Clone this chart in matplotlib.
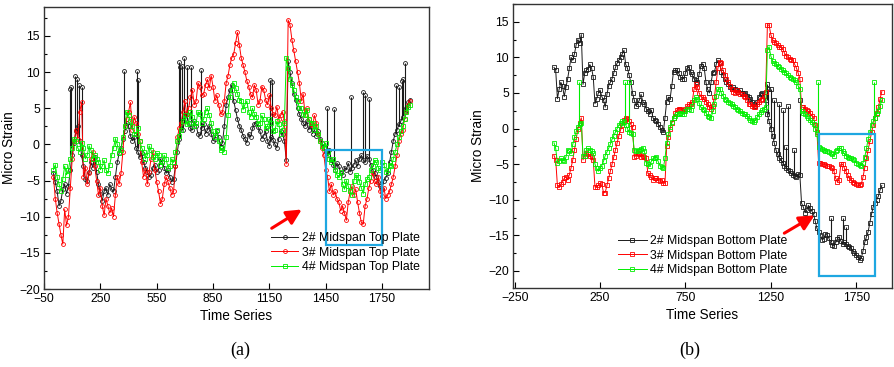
import matplotlib
matplotlib.use("Agg")
import matplotlib.pyplot as plt
from matplotlib.patches import Rectangle
from matplotlib.ticker import MultipleLocator

plt.rcParams['font.family'] = ['Liberation Sans', 'DejaVu Sans']

# ---- panel (a): midspan top plates, one reading every 10 steps ----
time_a = list(range(0, 1901, 10))
top_2 = [-4.0, -5.2, -6.5, -8.5, -7.8, -6.2, -5.5, -6.8, -5.8, -3.5,
         -1.5, 0.2, 1.8, 2.6, 0.5, -1.5, -3.0, -4.8, -5.0, -3.8,
         -2.5, -3.2, -1.8, -3.8, -5.5, -6.8, -7.8, -6.5, -6.0, -7.0,
         -5.5, -6.2, -6.5, -4.5, -2.5, -1.2, -0.5, 0.8, 1.8, 3.0,
         2.5, 1.2, 0.5, 1.0, -0.5, -1.0, -1.8, -1.2, -2.5, -3.2,
         -3.8, -4.5, -4.2, -3.2, -2.8, -3.8, -3.5, -2.0, -2.5, -3.2,
         -4.0, -3.5, -4.5, -5.2, -4.8, -3.0, -1.0, 0.8, 2.5, 2.0,
         3.5, 4.2, 3.0, 2.2, 2.0, 3.2, 2.6, 1.5, 1.2, 2.2,
         2.8, 1.5, 2.0, 2.6, 1.5, 0.5, 0.8, 1.8, 1.0, -0.3,
         0.2, 2.5, 5.5, 6.5, 7.5, 8.2, 6.0, 4.8, 3.5, 2.6,
         2.0, 1.2, 0.8, 0.2, 1.5, 1.0, 2.2, 2.8, 3.0, 2.4,
         1.8, 0.8, 1.2, 1.8, 0.5, -0.2, 1.0, 0.6, 0.0, -0.5,
         0.8, 1.8, 1.5, 0.5, -2.2, 11.5, 10.0, 8.5, 7.0, 6.2,
         5.0, 4.2, 3.5, 3.0, 2.5, 3.2, 2.0, 2.6, 1.5, 2.0,
         1.2, 1.8, 0.8, 0.2, -0.5, -1.0, -1.5, -0.8, -2.2, -2.8,
         -3.5, -2.6, -3.0, -4.0, -4.2, -3.2, -3.5, -2.6, -3.8, -3.2,
         -2.8, -2.2, -3.0, -2.0, -1.5, -2.2, -2.5, -1.6, -2.0, -2.8,
         -3.5, -4.0, -4.5, -5.2, -5.8, -6.2, -5.0, -4.6, -4.0, -2.5,
         -1.0, 0.5, 1.5, 2.0, 2.8, 3.2, 3.8, 4.5, 5.0, 5.8,
         6.2]
top_3 = [-4.5, -7.5, -9.5, -11.0, -12.5, -13.8, -9.0, -11.2, -10.0, -6.0,
         -2.0, 0.5, 2.0, 0.8, 4.5, 5.8, -4.5, -3.2, -5.5, -4.0,
         -2.0, -1.0, -3.0, -5.0, -7.0, -6.0, -8.5, -9.8, -7.5, -8.5,
         -9.5, -8.8, -10.0, -7.0, -4.5, -5.5, -4.0, -1.0, 2.5, 3.5,
         4.5, 5.8, 2.0, 3.8, 3.0, 1.5, 0.5, -2.5, -4.5, -3.5,
         -5.5, -3.8, -2.0, -1.0, -3.5, -5.2, -6.5, -8.2, -7.5, -5.5,
         -4.5, -5.2, -6.0, -7.0, -6.5, -3.0, 1.0, 2.2, 3.0, 4.5,
         6.0, 4.2, 5.0, 6.5, 7.5, 5.5, 6.0, 8.5, 8.0, 6.8,
         7.0, 8.2, 9.0, 7.8, 9.5, 8.0, 6.0, 6.8, 5.5, 4.2,
         4.5, 6.0, 8.5, 9.5, 11.0, 12.0, 12.5, 14.0, 15.5, 13.8,
         12.0, 11.0, 10.0, 8.8, 8.0, 7.0, 6.5, 8.2, 7.5, 5.5,
         6.0, 8.0, 7.5, 6.2, 5.5, 6.8, 5.0, 4.2, 4.0, 5.2,
         3.5, 4.0, 4.5, 3.2, -2.7, 17.2, 16.5, 14.5, 13.0, 11.5,
         10.0, 8.5, 6.0, 7.0, 4.0, 5.0, 3.5, 2.8, 2.5, 4.0,
         3.0, 1.5, 0.5, -0.5, -1.5, -3.5, -4.5, -6.5, -5.5, -7.0,
         -6.5, -7.5, -8.0, -9.2, -8.5, -9.5, -10.5, -8.0, -6.5, -5.8,
         -7.0, -6.2, -8.0, -9.5, -10.8, -11.0, -8.5, -7.5, -6.0, -5.0,
         -4.0, -5.0, -5.5, -4.5, -6.5, -7.2, -6.0, -7.5, -7.0, -6.5,
         -5.5, -4.5, -3.0, -1.5, 0.5, 1.5, 2.0, 3.5, 4.5, 5.5,
         6.0]
top_4 = [-3.5, -2.8, -4.5, -5.5, -6.5, -4.8, -3.0, -4.2, -3.5, -2.0,
         -0.5, 0.8, 0.5, -0.5, -1.0, 0.2, -0.5, -2.0, -1.5, -0.2,
         -0.8, -2.0, -1.5, -2.0, -2.5, -3.5, -3.0, -2.2, -3.5, -4.0,
         -2.8, -1.5, -0.5, 0.8, 0.0, -1.2, -0.8, 1.0, 2.5, 4.5,
         4.0, 3.2, 2.5, 1.5, 1.5, 2.2, 0.5, -0.5, -1.0, -2.0,
         -1.5, -0.2, -0.8, -1.8, -2.0, -1.2, -1.5, -2.8, -2.5, -1.5,
         -2.0, -3.2, -3.0, -2.0, -2.5, -1.0, 0.5, 1.2, 2.0, 3.2,
         4.0, 2.8, 3.0, 4.5, 3.8, 2.5, 3.0, 4.5, 4.2, 3.0,
         3.5, 4.5, 5.0, 4.0, 3.0, 1.8, 1.0, 2.0, 0.5, -0.8,
         -0.5, -1.0, 1.0, 4.0, 6.5, 7.5, 8.5, 7.8, 7.0, 6.2,
         6.0, 4.8, 5.5, 6.0, 4.5, 3.8, 5.0, 4.2, 3.8, 2.8,
         3.0, 4.0, 3.5, 2.2, 2.5, 3.5, 3.0, 1.8, 2.0, 3.2,
         2.8, 1.5, 2.0, 3.0, 12.0, 10.5, 9.0, 8.2, 7.5, 6.5,
         6.0, 5.0, 5.0, 4.2, 4.0, 4.8, 3.5, 3.0, 3.0, 2.0,
         2.5, 1.5, 0.5, -0.2, -0.5, 0.2, -1.0, -2.0, -2.5, -2.0,
         -3.5, -4.2, -4.5, -3.8, -5.5, -6.2, -5.0, -5.8, -6.5, -7.0,
         -5.0, -4.2, -4.5, -5.2, -6.0, -6.8, -5.5, -4.8, -4.5, -3.5,
         -3.0, -2.2, -2.5, -3.2, -3.5, -2.5, -2.8, -3.8, -3.5, -2.8,
         -3.0, -2.0, -1.0, 0.0, 1.0, 1.8, 2.5, 3.5, 4.5, 5.2,
         5.5]

# isolated spikes of gauge 2#
spike_a_x = [89, 96, 114, 128, 134, 151, 377, 445, 450, 667, 676, 685, 697,
             711, 733, 786, 1156, 1165, 1459, 1494, 1585, 1651, 1660, 1683,
             1823, 1838, 1855, 1864, 1873]
spike_a_lo = [-1.5, -0.5, 1.5, 1.0, 1.0, -2.0, 1.5, -0.5, -0.5, 0.0, 1.0, 2.0, 3.0,
              3.5, 2.5, 1.5, 0.5, 1.0, -1.5, -2.5, -3.5, -2.0, -2.0, -2.5,
              1.5, 2.5, 3.5, 4.0, 4.5]
spike_a_hi = [7.7, 8.0, 9.4, 9.1, 8.2, 8.0, 10.1, 10.1, 8.9, 11.4, 10.7, 10.9, 12.0,
              10.7, 10.7, 10.3, 8.9, 8.6, 5.1, 4.9, 6.6, 7.3, 6.9, 6.3,
              8.2, 8.0, 8.7, 9.1, 11.3]

# ---- panel (b): midspan bottom plates, one reading every 10 steps ----
time_b = list(range(-20, 1901, 10))
bot_2 = [8.6, 8.2, 4.2, 5.5, 6.5, 6.0, 4.5, 5.8, 7.0, 8.5,
         10.0, 9.6, 10.5, 11.8, 12.5, 12.0, 13.2, 6.2, 7.8, 8.2,
         8.4, 9.0, 8.5, 7.2, 3.5, 4.2, 5.0, 5.4, 4.5, 4.0,
         3.0, 4.8, 6.0, 6.5, 7.0, 7.8, 8.6, 9.2, 9.6, 10.0,
         10.5, 11.0, 9.0, 8.5, 7.5, 6.5, 5.0, 4.0, 3.2, 3.5,
         4.0, 4.8, 3.8, 3.5, 2.8, 2.4, 2.0, 2.6, 1.5, 1.2,
         1.0, 0.6, 0.2, -0.2, -0.5, 1.5, 3.8, 4.4, 4.2, 6.0,
         8.0, 8.2, 8.2, 7.8, 7.3, 7.0, 7.0, 7.8, 8.5, 8.6,
         8.0, 7.6, 7.0, 6.8, 6.5, 7.6, 8.8, 9.1, 8.5, 6.5,
         5.5, 5.0, 6.5, 7.8, 8.0, 9.0, 9.6, 9.2, 8.0, 7.5,
         7.0, 6.6, 6.2, 5.8, 5.6, 5.8, 5.5, 5.4, 5.2, 5.4,
         5.0, 4.8, 5.0, 4.6, 4.5, 4.2, 3.8, 3.4, 3.2, 3.8,
         4.5, 4.8, 5.0, 4.6, 4.0, 2.0, 1.0, 0.0, -1.0, -2.0,
         -3.0, -3.6, -4.2, -4.4, -4.8, -5.2, -5.5, -5.8, -6.0, -6.3,
         -6.5, -6.6, -6.8, -6.4, -6.5, -10.5, -11.0, -11.8, -11.5, -10.8,
         -11.2, -11.6, -12.0, -13.0, -14.0, -14.6, -15.0, -15.6, -15.5, -14.8,
         -15.0, -15.4, -16.0, -16.4, -16.5, -16.0, -15.5, -15.2, -15.8, -16.2,
         -16.0, -16.2, -16.5, -16.6, -16.8, -17.2, -17.5, -17.8, -18.0, -18.4,
         -18.2, -17.2, -16.0, -15.2, -14.5, -13.2, -12.0, -11.0, -10.5, -10.0,
         -9.5, -8.6, -8.0]
bot_3 = [-3.8, -4.4, -8.0, -8.2, -7.8, -7.5, -7.0, -6.8, -7.2, -6.5,
         -5.5, -4.4, -3.0, -1.5, 0.0, 0.8, 1.5, -4.4, -3.8, -3.5,
         -3.6, -3.8, -4.0, -4.4, -8.2, -8.2, -8.0, -7.7, -7.8, -9.0,
         -9.0, -8.0, -7.0, -6.0, -5.0, -4.0, -3.0, -2.0, -1.0, -0.2,
         0.5, 1.2, 1.5, 1.4, 1.0, 0.6, 0.2, -4.0, -3.8, -3.5,
         -3.6, -4.0, -3.8, -4.0, -4.2, -6.3, -6.5, -6.8, -7.2, -7.0,
         -7.0, -7.2, -7.4, -7.2, -7.6, -7.7, -2.5, -1.2, 0.0, 0.8,
         1.5, 2.2, 2.6, 2.8, 2.8, 2.6, 2.4, 2.8, 3.2, 3.4,
         3.5, 3.8, 5.5, 6.2, 5.8, 5.0, 4.5, 4.4, 4.2, 3.8,
         3.5, 3.0, 2.8, 3.2, 4.5, 6.5, 8.5, 9.4, 9.2, 8.2,
         7.5, 7.0, 6.5, 6.0, 5.5, 5.2, 5.0, 5.4, 5.2, 4.8,
         4.8, 4.6, 4.5, 4.0, 3.5, 3.4, 3.2, 3.0, 3.0, 3.4,
         3.8, 4.0, 4.2, 4.6, 5.2, 14.6, 14.5, 13.2, 12.5, 12.2,
         12.0, 11.8, 11.5, 11.4, 11.2, 10.6, 10.2, 10.0, 9.8, 9.7,
         9.6, 9.0, 8.5, 7.8, 7.0, 3.0, 3.0, 2.8, 2.6, 2.4,
         2.2, 1.8, 1.5, 0.5, -0.5, -4.8, -4.9, -5.0, -5.0, -5.1,
         -5.2, -5.3, -5.4, -5.6, -6.0, -7.0, -7.5, -7.2, -5.0, -5.0,
         -5.5, -6.0, -6.5, -7.0, -7.2, -7.5, -7.6, -7.8, -8.0, -8.0,
         -7.8, -6.8, -5.5, -4.2, -3.0, -1.8, -0.5, 0.5, 1.5, 2.2,
         3.0, 4.2, 5.2]
bot_4 = [-2.0, -2.8, -4.8, -4.6, -4.2, -4.4, -4.6, -4.0, -3.0, -3.2,
         -3.4, -2.2, -1.2, -0.4, 0.2, 0.6, 0.8, -3.9, -3.8, -3.0,
         -2.8, -3.0, -3.2, -3.5, -5.0, -5.6, -6.0, -5.6, -5.2, -4.6,
         -3.8, -3.3, -2.8, -2.2, -1.5, -1.0, -0.5, 0.0, 0.5, 0.8,
         1.0, 0.9, 0.5, 0.0, -0.5, -0.6, -0.8, -3.0, -3.2, -3.1,
         -3.0, -2.9, -2.8, -3.2, -4.8, -5.0, -5.2, -4.6, -4.2, -4.1,
         -4.0, -4.6, -5.2, -5.4, -5.6, -4.2, -2.0, -0.8, 0.2, 0.9,
         1.5, 1.8, 2.0, 2.1, 2.2, 2.1, 2.0, 2.4, 2.8, 2.7,
         2.6, 3.2, 4.0, 4.4, 4.2, 3.6, 3.0, 2.8, 2.6, 2.2,
         1.8, 1.6, 1.5, 2.4, 3.5, 4.6, 5.5, 5.6, 5.0, 4.6,
         4.2, 4.0, 3.8, 3.6, 3.5, 3.2, 3.0, 2.8, 2.6, 2.4,
         2.2, 2.1, 2.0, 1.8, 1.5, 1.2, 1.0, 0.9, 1.2, 1.6,
         2.0, 2.3, 2.6, 2.8, 3.0, 11.0, 11.5, 10.2, 9.5, 9.2,
         9.0, 8.8, 8.6, 8.4, 8.2, 8.0, 7.8, 7.5, 7.2, 7.1,
         7.0, 6.8, 6.5, 6.0, 5.5, 2.4, 2.2, 2.0, 1.8, 1.5,
         1.2, 0.9, 0.6, 0.0, -0.7, -2.6, -2.8, -2.9, -3.0, -3.1,
         -3.2, -3.3, -3.4, -3.6, -3.8, -3.2, -3.0, -2.7, -2.8, -3.2,
         -3.5, -3.8, -4.0, -4.1, -4.2, -4.3, -4.4, -4.8, -5.0, -5.1,
         -5.2, -4.8, -4.0, -2.8, -1.5, -0.5, 0.5, 1.0, 1.5, 2.0,
         2.5, 3.2, 4.0]

spike_b2_x = [1225, 1235, 1251, 1270, 1300, 1319, 1339, 1352, 1387, 1423, 1602, 1670, 1690]
spike_b2_lo = [4.0, 2.0, 0.0, -1.5, -4.0, -4.8, -5.5, -5.8, -6.5, -6.5, -16.0, -15.8, -16.0]
spike_b2_hi = [6.3, 5.5, 5.5, 4.0, 3.5, 2.6, -2.6, 3.2, -3.0, 4.0, -12.6, -12.6, -13.8]
spike_b4_x = [128, 397, 421, 1524, 1855]
spike_b4_lo = [0.6, 1.0, -0.5, -0.7, 1.5]
spike_b4_hi = [6.5, 6.5, 6.5, 6.5, 6.5]

BLACK = '#1a1a1a'
RED = '#ff0000'
GREEN = '#00ee00'
BLUE = '#1ea7e1'

fig = plt.figure(figsize=(8.95, 3.67), dpi=100)
ax1 = fig.add_axes([0.0492, 0.2125, 0.4301, 0.7684])
ax2 = fig.add_axes([0.5732, 0.2153, 0.4235, 0.7738])


def style_axis(ax):
    for s in ax.spines.values():
        s.set_linewidth(1.0)
        s.set_color('#333333')
    ax.tick_params(direction='in', length=4, width=0.8, labelsize=8.8, top=False, right=False, pad=3)
    ax.tick_params(which='minor', direction='in', length=2.5, width=0.8, top=False, right=False)
    ax.yaxis.set_minor_locator(MultipleLocator(2.5))
    ax.set_xlabel('Time Series', fontsize=9.8, labelpad=3)
    ax.set_ylabel('Micro Strain', fontsize=9.8, labelpad=2)


# panel (a)
ax1.vlines(spike_a_x, spike_a_lo, spike_a_hi, color=BLACK, lw=0.8)
ax1.plot(spike_a_x, spike_a_hi, 'o', ms=2.8, mfc='none', mec=BLACK, mew=0.6)
ax1.plot(time_a, top_2, '-o', color=BLACK, lw=0.7, ms=2.8, mfc='none', mew=0.6,
         label='2# Midspan Top Plate')
ax1.plot(time_a, top_3, '-o', color=RED, lw=0.7, ms=2.8, mfc='none', mew=0.6,
         label='3# Midspan Top Plate')
ax1.plot(time_a, top_4, '-s', color=GREEN, lw=0.7, ms=2.6, mfc='none', mew=0.6,
         label='4# Midspan Top Plate')
ax1.set_xlim(-50, 2000)
ax1.set_ylim(-20, 19)
ax1.set_xticks([-50, 250, 550, 850, 1150, 1450, 1750])
ax1.set_yticks([-20, -15, -10, -5, 0, 5, 10, 15])
style_axis(ax1)
ax1.add_patch(Rectangle((1450, -13.9), 300, 13.1, fill=False, ec=BLUE, lw=1.6, zorder=5))
ax1.annotate('', xy=(1335, -8.8), xytext=(1150, -11.8),
             arrowprops=dict(arrowstyle='-|>,head_length=0.9,head_width=0.45', color=RED, lw=2.2))
ax1.legend(loc='lower left', bbox_to_anchor=(0.575, 0.035), frameon=False, fontsize=8.8,
           handlelength=2.2, handletextpad=0.3, labelspacing=0.2, borderpad=0, numpoints=1)

# panel (b)
ax2.vlines(spike_b2_x, spike_b2_lo, spike_b2_hi, color=BLACK, lw=0.8)
ax2.plot(spike_b2_x, spike_b2_hi, 's', ms=3.4, mfc='none', mec=BLACK, mew=0.6)
ax2.plot(time_b, bot_2, '-s', color=BLACK, lw=0.7, ms=3.4, mfc='none', mew=0.6,
         label='2# Midspan Bottom Plate')
ax2.plot(time_b, bot_3, '-s', color=RED, lw=0.7, ms=3.4, mfc='none', mew=0.6,
         label='3# Midspan Bottom Plate')
ax2.vlines(spike_b4_x, spike_b4_lo, spike_b4_hi, color=GREEN, lw=0.8)
ax2.plot(spike_b4_x, spike_b4_hi, 's', ms=3.4, mfc='none', mec=GREEN, mew=0.6)
ax2.plot(time_b, bot_4, '-s', color=GREEN, lw=0.7, ms=3.4, mfc='none', mew=0.6,
         label='4# Midspan Bottom Plate')
ax2.set_xlim(-260, 1960)
ax2.set_ylim(-22.4, 17.5)
ax2.set_xticks([-250, 250, 750, 1250, 1750])
ax2.set_yticks([-20, -15, -10, -5, 0, 5, 10, 15])
style_axis(ax2)
ax2.add_patch(Rectangle((1530, -20.7), 330, 20.0, fill=False, ec=BLUE, lw=1.6, zorder=5))
ax2.annotate('', xy=(1520, -12.0), xytext=(1315, -14.9),
             arrowprops=dict(arrowstyle='-|>,head_length=0.9,head_width=0.45', color=RED, lw=2.2))
ax2.legend(loc='lower left', bbox_to_anchor=(0.262, 0.02), frameon=False, fontsize=8.8,
           handlelength=2.3, handletextpad=0.3, labelspacing=0.2, borderpad=0, numpoints=1)

fig.text(0.268, 0.032, '(a)', family='Liberation Serif', fontsize=13, ha='center')
fig.text(0.771, 0.032, '(b)', family='Liberation Serif', fontsize=13, ha='center')

fig.savefig('out.png', dpi=100)
